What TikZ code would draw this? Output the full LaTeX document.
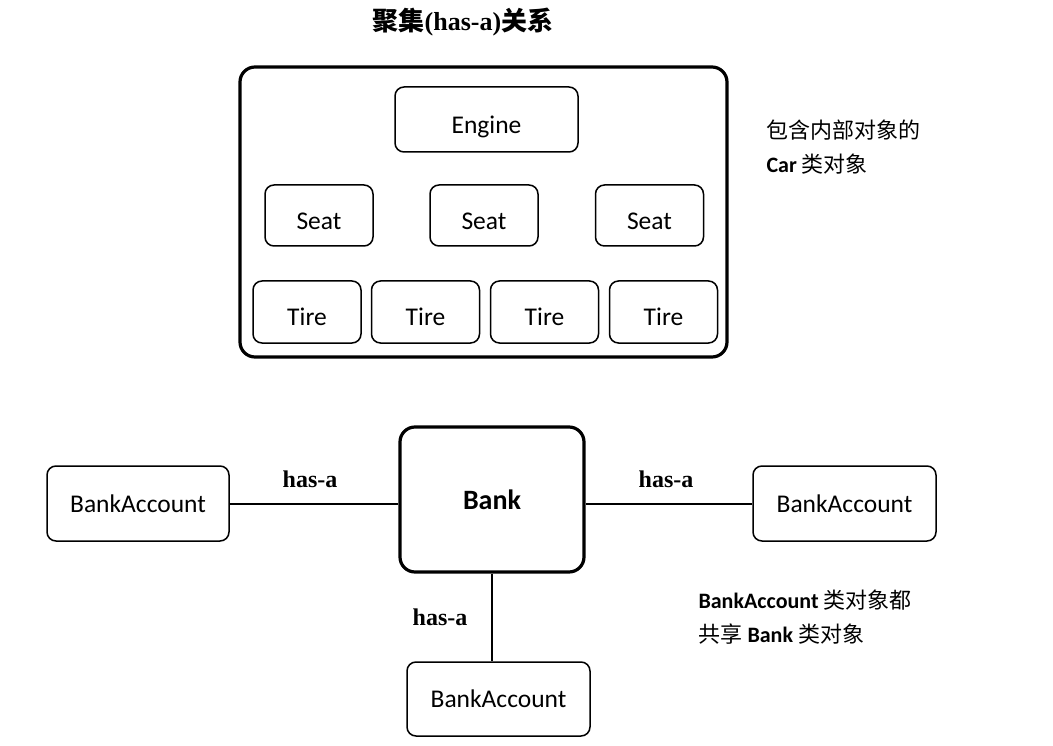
\documentclass[tikz,border=0pt]{standalone}
\usepackage{fontspec}
\setmainfont{Carlito}
\newfontfamily\cjk{Noto Sans CJK SC}
\newfontfamily\serifbf{Liberation Serif}
\tikzset{
  part/.style={draw, rounded corners=9pt, line width=1.5pt, font=\fontsize{25.5}{30}\selectfont},
  carpart/.style={part, text height=28pt, text depth=0pt},
  holder/.style={draw, rounded corners=15pt, line width=3.2pt},
  link/.style={line width=2pt},
  haslabel/.style={font=\serifbf\bfseries\fontsize{24}{28}\selectfont},
  note/.style={anchor=west, align=left, font=\fontsize{22}{34}\selectfont}
}
\begin{document}
\begin{tikzpicture}[x=1pt,y=-1pt]
    \useasboundingbox (0,0) rectangle (1053,746);

    % Title
    \node (title) at (463,22) {\fontsize{26}{30}\selectfont\bfseries{\cjk 聚集}{\serifbf (has-a)}{\cjk 关系}};

    % Car object with its parts
    \node[holder, minimum width=487pt, minimum height=290pt] (car) at (483.5,212) {};
    \node[carpart, minimum width=183pt, minimum height=65pt] (engine) at (486.5,119.5) {Engine};
    \node[carpart, minimum width=108pt, minimum height=61pt] (seat1) at (319,215.5) {Seat};
    \node[carpart, minimum width=108pt, minimum height=61pt] (seat2) at (484,215.5) {Seat};
    \node[carpart, minimum width=108pt, minimum height=61pt] (seat3) at (649.5,215.5) {Seat};
    \node[carpart, minimum width=108pt, minimum height=62pt] (tire1) at (307,312) {Tire};
    \node[carpart, minimum width=108pt, minimum height=62pt] (tire2) at (425.5,312) {Tire};
    \node[carpart, minimum width=108pt, minimum height=62pt] (tire3) at (544.5,312) {Tire};
    \node[carpart, minimum width=108pt, minimum height=62pt] (tire4) at (663.5,312) {Tire};

    \node[note] (carnote) at (763,147) {{\cjk 包含内部对象的}\\{\bfseries Car} {\cjk 类对象}};

    % Bank shared by the accounts
    \node[holder, minimum width=184pt, minimum height=145pt, font=\bfseries\fontsize{28}{32}\selectfont] (bank) at (492,499.5) {Bank};
    \node[part, minimum width=182pt, minimum height=75pt] (accleft) at (138,503.5) {BankAccount};
    \node[part, minimum width=183pt, minimum height=75pt] (accright) at (844.5,503.5) {BankAccount};
    \node[part, minimum width=183pt, minimum height=74pt] (accbottom) at (498.5,699) {BankAccount};

    \draw[link] (accleft.east) -- (accleft.east -| bank.west);
    \draw[link] (accright.west) -- (accright.west -| bank.east);
    \draw[link] (bank.south) -- (bank.south |- accbottom.north);

    \node[haslabel] (hasleft) at (310,479) {has-a};
    \node[haslabel] (hasright) at (666,479) {has-a};
    \node[haslabel] (hasbottom) at (440,617) {has-a};

    \node[note] (banknote) at (695,617) {{\bfseries BankAccount} {\cjk 类对象都}\\{\cjk 共享} {\bfseries Bank} {\cjk 类对象}};

\end{tikzpicture}
\end{document}
